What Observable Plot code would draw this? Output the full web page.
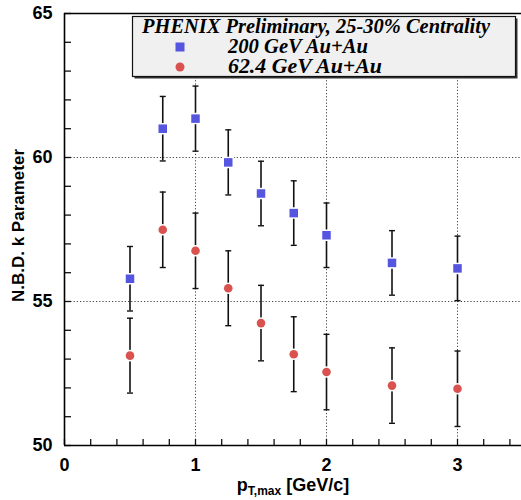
<!DOCTYPE html>
<html>
<head>
<meta charset="utf-8">
<script src="https://cdn.jsdelivr.net/npm/d3@7"></script>
<script src="https://cdn.jsdelivr.net/npm/@observablehq/plot@0.6"></script>
<style>
  html, body { margin: 0; padding: 0; background: #fff; }
  #chart svg { display: block; }
</style>
</head>
<body>
<div id="chart"></div>
<script>
// ---- data ----
const ptMax = [0.5, 0.75, 1.0, 1.25, 1.5, 1.75, 2.0, 2.5, 3.0];
const k200 = [55.79, 61.00, 61.35, 59.83, 58.75, 58.07, 57.30, 56.34, 56.15];
const err200 = [1.12, 1.12, 1.13, 1.13, 1.12, 1.12, 1.12, 1.12, 1.12];
const k62 = [53.12, 57.49, 56.76, 55.46, 54.25, 53.17, 52.55, 52.08, 51.97];
const err62 = [1.30, 1.31, 1.31, 1.30, 1.31, 1.30, 1.31, 1.31, 1.31];
const xTickLabels = [0, 1, 2, 3];
const yTickLabels = [50, 55, 60, 65];
const xMinor = d3.range(0, 3.5001, 0.2).map(v => +v.toFixed(2));
const yMinor = d3.range(50, 65.001, 1);
const xGrid = [1, 2, 3];
const yGrid = [55, 60];
const legendTitle = "PHENIX Preliminary, 25-30% Centrality";
const series = ["200 GeV Au+Au", "62.4 GeV Au+Au"];

const s200 = ptMax.map((x, i) => ({x, y: k200[i], e: err200[i]}));
const s62 = ptMax.map((x, i) => ({x, y: k62[i], e: err62[i]}));

const blue = "#5555e0";
const red = "#d9524f";
const capSymbol = {
  draw(ctx, size) {
    const w = Math.sqrt(size / Math.PI);
    ctx.moveTo(-w, 0); ctx.lineTo(w, 0);
  }
};

const W = 521, H = 500, mL = 64, mT = 13, mB = 55, mR = 0;
const sansBold = {fontFamily: "Liberation Sans, Arial, sans-serif", fontWeight: "bold"};

function errorMarks(data) {
  return [
    Plot.ruleX(data, {x: "x", y1: d => d.y - d.e, y2: d => d.y + d.e, stroke: "#111", strokeWidth: 1.6}),
    Plot.dot(data, {x: "x", y: d => d.y - d.e, symbol: capSymbol, r: 3, stroke: "#111", strokeWidth: 1.4, fill: "none"}),
    Plot.dot(data, {x: "x", y: d => d.y + d.e, symbol: capSymbol, r: 3, stroke: "#111", strokeWidth: 1.4, fill: "none"})
  ];
}

const chart = Plot.plot({
  width: W, height: H,
  marginLeft: mL, marginRight: mR, marginTop: mT, marginBottom: mB,
  x: {domain: [0, 3.5], range: [mL, 522.5], axis: null},
  y: {domain: [50, 65], axis: null},
  style: {background: "white", overflow: "visible"},
  marks: [
    // grid
    Plot.ruleX(xGrid, {x: d => d, stroke: "#444", strokeWidth: 1, strokeDasharray: "1.2,2"}),
    Plot.ruleY(yGrid, {y: d => d, stroke: "#444", strokeWidth: 1, strokeDasharray: "1.2,2"}),
    // minor ticks (inward)
    Plot.tickX(xMinor, {x: d => d, insetTop: (H - mT - mB) - 6, stroke: "#111", strokeWidth: 1.3}),
    Plot.tickY(yMinor, {y: d => d, insetRight: (W - mL - mR) - 7, stroke: "#111", strokeWidth: 1.3}),
    // frame lines
    Plot.ruleX([0], {x: d => d, stroke: "#000", strokeWidth: 1.6}),
    Plot.ruleY([50, 65], {y: d => d, stroke: "#000", strokeWidth: 1.6}),
    // tick labels
    Plot.text(xTickLabels, {x: d => d, y: 50, dy: 20, text: d => String(d), fontSize: 18, ...sansBold, fill: "#000"}),
    Plot.text(yTickLabels, {x: 0, y: d => d, dx: -12, textAnchor: "end", text: d => String(d), fontSize: 18, ...sansBold, fill: "#000"}),
    // y label
    Plot.text(["N.B.D. k Parameter"], {frameAnchor: "left", dx: -46, dy: -4, rotate: -90, textAnchor: "middle", text: d => d, fontSize: 17, ...sansBold, fill: "#000"}),
    // error bars
    ...errorMarks(s200),
    ...errorMarks(s62),
    // markers
    Plot.dot(s200, {x: "x", y: "y", symbol: "square", r: 4.8, fill: blue, stroke: "white", strokeWidth: 3, paintOrder: "stroke"}),
    Plot.dot(s62, {x: "x", y: "y", symbol: "circle", r: 4.3, fill: red, stroke: "white", strokeWidth: 3, paintOrder: "stroke"})
  ]
});

document.getElementById("chart").appendChild(chart);

// x-axis label with subscript
const svg = d3.select(chart);
const xl = svg.append("text")
  .attr("x", 293).attr("y", 491)
  .attr("text-anchor", "middle")
  .attr("font-family", "Liberation Sans, Arial, sans-serif")
  .attr("font-weight", "bold")
  .attr("font-size", 18)
  .attr("fill", "#000");
xl.append("tspan").text("p");
xl.append("tspan").attr("font-size", 12).attr("dy", 4).text("T,max");
xl.append("tspan").attr("dy", -4).text(" [GeV/c]");

// legend box
const lg = svg.append("g").attr("text-anchor", "start");
lg.append("rect").attr("x", 134.5).attr("y", 18.5).attr("width", 383).attr("height", 60).attr("fill", "#333");
lg.append("rect").attr("x", 132.5).attr("y", 16.5).attr("width", 383).attr("height", 60)
  .attr("fill", "#f0f0f0").attr("stroke", "#111").attr("stroke-width", 1.2);
const serif = "Liberation Serif, Times New Roman, serif";
lg.append("text").attr("x", 142).attr("y", 33).text(legendTitle)
  .attr("text-anchor", "start")
  .attr("textLength", 348).attr("lengthAdjust", "spacingAndGlyphs")
  .attr("font-family", serif).attr("font-weight", "bold").attr("font-style", "italic")
  .attr("font-size", 20).attr("fill", "#000");
lg.append("rect").attr("x", 175.5).attr("y", 42.5).attr("width", 9).attr("height", 9).attr("fill", blue);
lg.append("circle").attr("cx", 180).attr("cy", 67).attr("r", 4.5).attr("fill", red);
const entryLen = [140, 154];
series.forEach((s, i) => {
  lg.append("text").attr("x", 228).attr("y", 53 + i * 20).text(s)
    .attr("text-anchor", "start")
    .attr("textLength", entryLen[i]).attr("lengthAdjust", "spacingAndGlyphs")
    .attr("font-family", serif).attr("font-weight", "bold").attr("font-style", "italic")
    .attr("font-size", 20).attr("fill", "#000");
});
</script>
</body>
</html>
